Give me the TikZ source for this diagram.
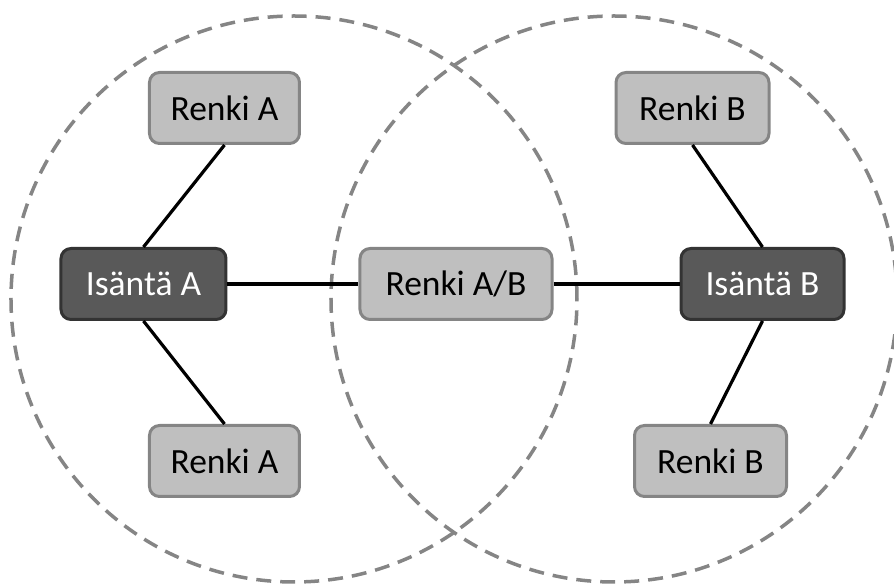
\documentclass[tikz,border=0pt]{standalone}
\usepackage{fontspec}
\setmainfont{Carlito}
\usetikzlibrary{positioning}

\definecolor{renkifill}{HTML}{BFBFBF}
\definecolor{renkiline}{HTML}{858585}
\definecolor{isantafill}{HTML}{595959}
\definecolor{isantaline}{HTML}{333333}
\definecolor{zoneline}{HTML}{858585}

\begin{document}
\begin{tikzpicture}[
  renki/.style={draw=renkiline, fill=renkifill, line width=3pt, rounded corners=10pt, minimum height=71pt, font=\fontsize{35.5}{40}\selectfont},
  isanta/.style={draw=isantaline, fill=isantafill, line width=3pt, rounded corners=10pt, minimum height=71pt, text=white, font=\fontsize{35.5}{40}\selectfont},
  zone/.style={draw=zoneline, line width=3.5pt, dash pattern=on 15pt off 9pt},
  link/.style={line width=3.2pt}
]
\useasboundingbox (-456pt,284pt) rectangle (438pt,-301pt);

% the two overlapping zones
\draw[zone] (-162pt,-15pt) circle (283pt);
\draw[zone] (158pt,-15pt) circle (283pt);

\node[renki, minimum width=192pt] (ab) at (0,0) {Renki A/B};
\node[isanta, minimum width=165pt, left=131pt of ab] (isa) {Isäntä A};
\node[isanta, minimum width=163pt, right=126pt of ab] (isb) {Isäntä B};
\node[renki, minimum width=150pt, above=102pt of isa, xshift=81pt] (rena1) {Renki A};
\node[renki, minimum width=150pt, below=103pt of isa, xshift=81pt] (rena2) {Renki A};
\node[renki, minimum width=153pt, above=102pt of isb, xshift=-70pt] (renb1) {Renki B};
\node[renki, minimum width=152pt, below=103pt of isb, xshift=-52pt] (renb2) {Renki B};

\draw[link] (isa) -- (ab);
\draw[link] (ab) -- (isb);
\draw[link] (rena1.south) -- (isa.north);
\draw[link] (rena2.north) -- (isa.south);
\draw[link] (renb1.south) -- (isb.north);
\draw[link] (renb2.north) -- (isb.south);

\end{tikzpicture}
\end{document}
